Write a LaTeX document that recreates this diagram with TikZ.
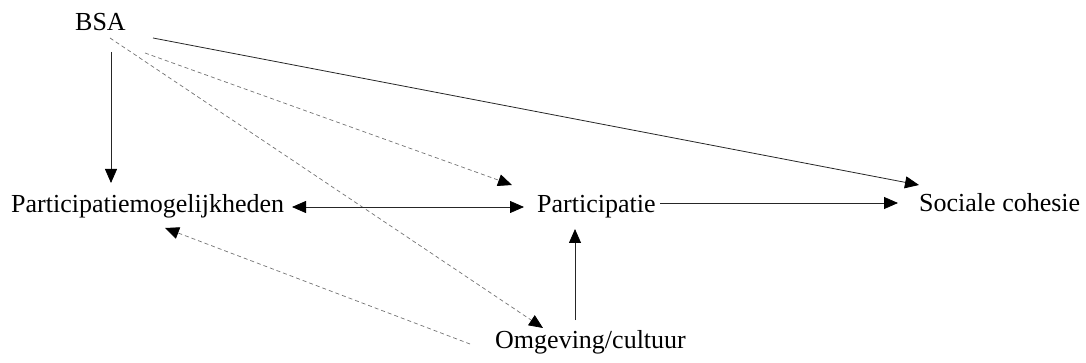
\documentclass[tikz,border=0pt]{standalone}
\usepackage{fontspec}
\setmainfont{Liberation Serif}
\usetikzlibrary{arrows.meta,calc}
\tikzset{
  lbl/.style={anchor=base west,inner sep=0pt,font=\fontsize{26}{30}\selectfont},
  bigtip/.tip={Triangle[length=14pt,width=12pt,color=black]},
  tip/.style={-bigtip},
  solidarr/.style={draw=black!85,line width=0.8pt,tip},
  dasharr/.style={draw=black!55,line width=0.7pt,dash pattern=on 4pt off 3pt,tip}
}
\begin{document}
\begin{tikzpicture}[x=1pt,y=-1pt]
\useasboundingbox (0,0) rectangle (1086,363);
\node[lbl] (bsa) at (75,31) {BSA};
\node[lbl] (pm) at (11,213) {Participatiemogelijkheden};
\node[lbl] (p) at (537,213) {Participatie};
\node[lbl] (sc) at (919,212) {Sociale cohesie};
\node[lbl] (om) at (495,348) {Omgeving/cultuur};
% BSA -> Participatiemogelijkheden
\draw[solidarr] ($(bsa.base west)+(36,21)$) -- ($(pm.base west)+(100,-30)$);
% BSA -> Sociale cohesie
\draw[solidarr] ($(bsa.base west)+(78,7)$) -- ($(sc.base west)+(0,-27)$);
% BSA -> Participatie (dashed)
\draw[dasharr] ($(bsa.base west)+(70,22)$) -- ($(p.base west)+(-25,-28)$);
% BSA -> Omgeving (dashed)
\draw[dasharr] ($(bsa.base west)+(35,7)$) -- ($(om.base west)+(48,-20)$);
% Participatiemogelijkheden <-> Participatie
\draw[solidarr,bigtip-bigtip] ($(pm.base west)+(281,-6)$) -- ($(p.base west)+(-13,-6)$);
% Participatie -> Sociale cohesie
\draw[solidarr] ($(p.base west)+(123,-10)$) -- ($(sc.base west)+(-21,-9)$);
% Omgeving -> Participatie
\draw[solidarr] ($(om.base west)+(80,-28)$) -- ($(p.base west)+(38,16)$);
% Omgeving -> Participatiemogelijkheden (dashed)
\draw[dasharr] ($(om.base west)+(-25,-4)$) -- ($(pm.base west)+(154,15)$);
\end{tikzpicture}
\end{document}
